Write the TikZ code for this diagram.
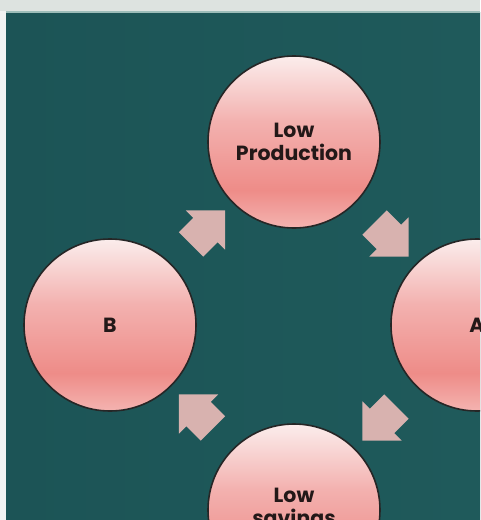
\documentclass[tikz,border=0pt]{standalone}
\usepackage{fontspec}
\setmainfont{Poppins}
\usetikzlibrary{shapes.arrows,calc}
\definecolor{bgteal}{HTML}{1C5456}
\definecolor{bgtealR}{HTML}{1F5A5B}
\definecolor{topbar}{HTML}{DDE3E0}
\definecolor{topline}{HTML}{9DBDB9}
\definecolor{leftstrip}{HTML}{F1F3F2}
\definecolor{arrowpink}{HTML}{D8B2AF}
\definecolor{rimdark}{HTML}{262626}
\definecolor{txtdark}{HTML}{231818}
\definecolor{pinkB}{HTML}{F4B3B0}
\definecolor{pinkD}{HTML}{EE8C88}
\definecolor{pinkM}{HTML}{F3B1AF}
\definecolor{pinkT}{HTML}{FBEDEC}
\pgfdeclareverticalshading{pinkball}{100bp}{color(0bp)=(pinkB); color(25bp)=(pinkB); color(36bp)=(pinkD); color(56bp)=(pinkM); color(75bp)=(pinkT); color(100bp)=(pinkT)}
\begin{document}
\begin{tikzpicture}[x=1pt,y=-1pt,
  ball/.style={circle, draw=rimdark, line width=1.6pt, shading=pinkball,
    minimum size=172pt, inner sep=0pt, align=center, text=txtdark,
    font=\bfseries\fontsize{20.5}{23}\selectfont},
  blockarrow/.style={single arrow, fill=arrowpink, draw=none,
    minimum height=48pt, inner xsep=0pt, inner ysep=17pt,
    single arrow head extend=10.5pt, single arrow tip angle=90}]
\useasboundingbox (0,0) rectangle (480,520);
\clip (0,0) rectangle (480,520);
\fill[leftstrip] (0,0) rectangle (480,520);
\shade[left color=bgteal, right color=bgtealR] (6,12) rectangle (480,520);
\fill[topbar] (0,0) rectangle (480,11);
\fill[topline] (6,11) rectangle (480,12.5);
\node[ball] (top) at (294,142) {Low\\Production};
\node[ball] (left) at (110,325) {B};
\node[ball] (right) at (477,325) {A};
\node[ball] (bottom) at (294,510) {Low\\savings};
\node[blockarrow, rotate=45] (a1) at ($(left.center)!0.5!(top.center)$) {};
\node[blockarrow, rotate=-45] (a2) at ($(top.center)!0.5!(right.center)$) {};
\node[blockarrow, rotate=-135] (a3) at ($(right.center)!0.5!(bottom.center)$) {};
\node[blockarrow, rotate=135] (a4) at ($(bottom.center)!0.5!(left.center)$) {};
\end{tikzpicture}
\end{document}
